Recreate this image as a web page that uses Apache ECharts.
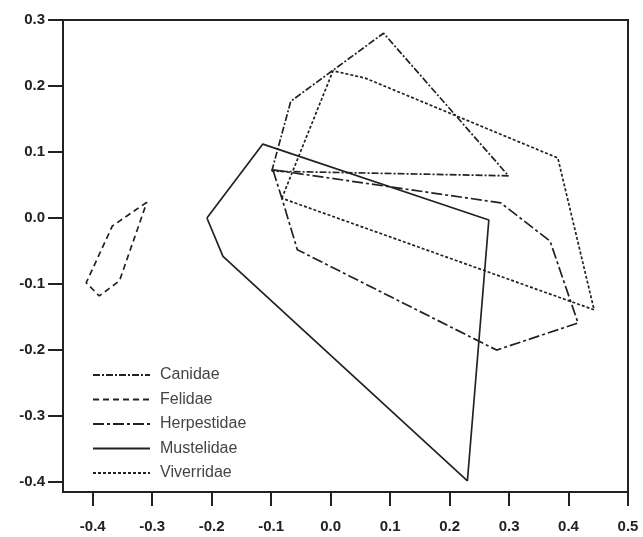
<!DOCTYPE html>
<html><head><meta charset="utf-8">
<script src="https://cdn.jsdelivr.net/npm/echarts@6/dist/echarts.min.js"></script>
<style>html,body{margin:0;padding:0;background:#fff}#c{width:643px;height:537px}</style>
</head><body><div id="c"></div>
<script>
const xTicks = [-0.4,-0.3,-0.2,-0.1,0.0,0.1,0.2,0.3,0.4,0.5];
const yTicks = [-0.4,-0.3,-0.2,-0.1,0.0,0.1,0.2,0.3];
const names = ['Canidae','Felidae','Herpestidae','Mustelidae','Viverridae'];
const canidae = [[-0.099,0.071],[-0.067,0.177],[0.089,0.280],[0.299,0.064],[-0.099,0.071]];
const felidae = [[-0.309,0.024],[-0.367,-0.012],[-0.411,-0.098],[-0.389,-0.118],[-0.355,-0.095],[-0.309,0.024]];
const herpestidae = [[-0.097,0.073],[0.286,0.023],[0.369,-0.035],[0.416,-0.159],[0.279,-0.200],[-0.056,-0.048],[-0.082,0.030],[-0.097,0.073]];
const mustelidae = [[-0.208,0.0],[-0.114,0.112],[0.266,-0.003],[0.230,-0.398],[-0.181,-0.058],[-0.208,0.0]];
const viverridae = [[-0.082,0.030],[0.004,0.223],[0.058,0.212],[0.382,0.091],[0.443,-0.139],[-0.082,0.030]];
const dataSets = [canidae,felidae,herpestidae,mustelidae,viverridae];
const dashes = [[7,2,2,2],[6,4],[11,3,3,3],'solid',[3,2]];
const col = '#222';
const chart = echarts.init(document.getElementById('c'));
const fmt = v => (Math.abs(v) < 1e-9 ? '0.0' : v.toFixed(1));
chart.setOption({
  animation:false,
  grid:{left:63,right:15,top:20,bottom:45,show:true,borderColor:col,borderWidth:2,containLabel:false},
  legend:{orient:'vertical',left:87,top:362,itemWidth:57,itemHeight:14,itemGap:8.5,
    itemStyle:{color:'transparent',borderColor:'transparent',borderWidth:0,opacity:0},
    data:names,textStyle:{fontFamily:'Liberation Sans, Arial',fontSize:16,lineHeight:15,color:'#444',padding:[0,0,0,5]}},
  xAxis:{type:'value',min:-0.45,max:0.5,
    axisLine:{show:true,onZero:false,lineStyle:{color:col,width:2}},
    axisTick:{show:true,inside:false,length:14,customValues:xTicks,lineStyle:{color:col,width:2}},
    axisLabel:{customValues:xTicks,formatter:fmt,margin:27,color:'#222',fontWeight:'bold',fontSize:15,fontFamily:'Liberation Sans, Arial'},
    splitLine:{show:false}},
  yAxis:{type:'value',min:-0.415,max:0.3,
    axisLine:{show:true,onZero:false,lineStyle:{color:col,width:2}},
    axisTick:{show:true,inside:false,length:15,customValues:yTicks,lineStyle:{color:col,width:2}},
    axisLabel:{customValues:yTicks,formatter:fmt,margin:18,color:'#222',fontWeight:'bold',fontSize:15,fontFamily:'Liberation Sans, Arial'},
    splitLine:{show:false}},
  series: names.map((n,i)=>({
    name:n,type:'line',data:dataSets[i],symbol:'none',showSymbol:false,
    lineStyle:{color:col,width:1.7,type:dashes[i]},itemStyle:{color:col},
    silent:true
  }))
});
</script></body></html>
